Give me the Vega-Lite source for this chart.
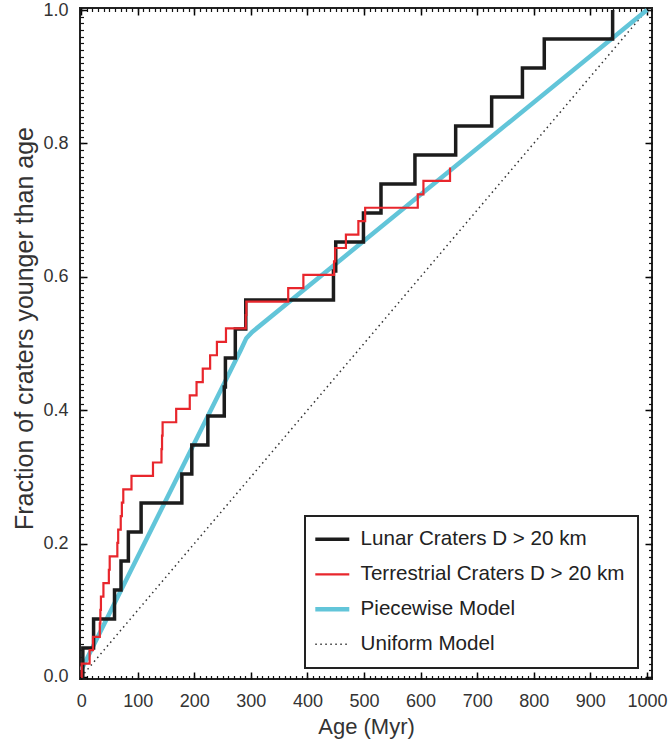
{
  "$schema": "https://vega.github.io/schema/vega-lite/v6.json",
  "width": 572,
  "height": 671,
  "autosize": {"type": "none"},
  "padding": {"left": 80, "top": 8, "right": 18, "bottom": 63},
  "background": "white",
  "config": {
    "view": {"stroke": "#222", "strokeWidth": 2},
    "axis": {"domain": false, "grid": false, "labelFont": "Liberation Sans", "titleFont": "Liberation Sans", "labelColor": "#333", "titleColor": "#333", "titleFontWeight": "normal", "labelFlush": false, "labelOverlap": false}
  },
  "data": {"values": [
    {"series": "Lunar Craters D > 20 km", "age": 0, "frac": 0},
    {"series": "Lunar Craters D > 20 km", "age": 3, "frac": 0.0435},
    {"series": "Lunar Craters D > 20 km", "age": 22, "frac": 0.087},
    {"series": "Lunar Craters D > 20 km", "age": 59, "frac": 0.1304},
    {"series": "Lunar Craters D > 20 km", "age": 70.5, "frac": 0.1739},
    {"series": "Lunar Craters D > 20 km", "age": 83.5, "frac": 0.2174},
    {"series": "Lunar Craters D > 20 km", "age": 106, "frac": 0.2609},
    {"series": "Lunar Craters D > 20 km", "age": 178, "frac": 0.3043},
    {"series": "Lunar Craters D > 20 km", "age": 195.6, "frac": 0.3478},
    {"series": "Lunar Craters D > 20 km", "age": 224, "frac": 0.3913},
    {"series": "Lunar Craters D > 20 km", "age": 253, "frac": 0.4348},
    {"series": "Lunar Craters D > 20 km", "age": 255, "frac": 0.4783},
    {"series": "Lunar Craters D > 20 km", "age": 272.5, "frac": 0.5217},
    {"series": "Lunar Craters D > 20 km", "age": 291, "frac": 0.5652},
    {"series": "Lunar Craters D > 20 km", "age": 446, "frac": 0.6087},
    {"series": "Lunar Craters D > 20 km", "age": 450, "frac": 0.6522},
    {"series": "Lunar Craters D > 20 km", "age": 499, "frac": 0.6957},
    {"series": "Lunar Craters D > 20 km", "age": 530, "frac": 0.7391},
    {"series": "Lunar Craters D > 20 km", "age": 590, "frac": 0.7826},
    {"series": "Lunar Craters D > 20 km", "age": 662, "frac": 0.8261},
    {"series": "Lunar Craters D > 20 km", "age": 725.6, "frac": 0.8696},
    {"series": "Lunar Craters D > 20 km", "age": 780, "frac": 0.913},
    {"series": "Lunar Craters D > 20 km", "age": 818.6, "frac": 0.9565},
    {"series": "Lunar Craters D > 20 km", "age": 939.4, "frac": 1.0},
    {"series": "Terrestrial Craters D > 20 km", "age": 0, "frac": 0},
    {"series": "Terrestrial Craters D > 20 km", "age": 1, "frac": 0.0201},
    {"series": "Terrestrial Craters D > 20 km", "age": 15, "frac": 0.0402},
    {"series": "Terrestrial Craters D > 20 km", "age": 21, "frac": 0.0603},
    {"series": "Terrestrial Craters D > 20 km", "age": 33, "frac": 0.0804},
    {"series": "Terrestrial Craters D > 20 km", "age": 34, "frac": 0.1005},
    {"series": "Terrestrial Craters D > 20 km", "age": 35, "frac": 0.1206},
    {"series": "Terrestrial Craters D > 20 km", "age": 39.4, "frac": 0.1407},
    {"series": "Terrestrial Craters D > 20 km", "age": 49, "frac": 0.1608},
    {"series": "Terrestrial Craters D > 20 km", "age": 50.5, "frac": 0.1809},
    {"series": "Terrestrial Craters D > 20 km", "age": 64, "frac": 0.201},
    {"series": "Terrestrial Craters D > 20 km", "age": 65.5, "frac": 0.2211},
    {"series": "Terrestrial Craters D > 20 km", "age": 70, "frac": 0.2412},
    {"series": "Terrestrial Craters D > 20 km", "age": 72, "frac": 0.2613},
    {"series": "Terrestrial Craters D > 20 km", "age": 74.5, "frac": 0.2814},
    {"series": "Terrestrial Craters D > 20 km", "age": 89, "frac": 0.3015},
    {"series": "Terrestrial Craters D > 20 km", "age": 127, "frac": 0.3216},
    {"series": "Terrestrial Craters D > 20 km", "age": 142, "frac": 0.3417},
    {"series": "Terrestrial Craters D > 20 km", "age": 143, "frac": 0.3618},
    {"series": "Terrestrial Craters D > 20 km", "age": 144, "frac": 0.3819},
    {"series": "Terrestrial Craters D > 20 km", "age": 168, "frac": 0.402},
    {"series": "Terrestrial Craters D > 20 km", "age": 192, "frac": 0.4221},
    {"series": "Terrestrial Craters D > 20 km", "age": 204, "frac": 0.4422},
    {"series": "Terrestrial Craters D > 20 km", "age": 215, "frac": 0.4623},
    {"series": "Terrestrial Craters D > 20 km", "age": 228, "frac": 0.4824},
    {"series": "Terrestrial Craters D > 20 km", "age": 240, "frac": 0.5025},
    {"series": "Terrestrial Craters D > 20 km", "age": 256, "frac": 0.5226},
    {"series": "Terrestrial Craters D > 20 km", "age": 291, "frac": 0.5427},
    {"series": "Terrestrial Craters D > 20 km", "age": 292, "frac": 0.5628},
    {"series": "Terrestrial Craters D > 20 km", "age": 366, "frac": 0.5829},
    {"series": "Terrestrial Craters D > 20 km", "age": 392.8, "frac": 0.603},
    {"series": "Terrestrial Craters D > 20 km", "age": 447, "frac": 0.6231},
    {"series": "Terrestrial Craters D > 20 km", "age": 449, "frac": 0.6432},
    {"series": "Terrestrial Craters D > 20 km", "age": 468, "frac": 0.6633},
    {"series": "Terrestrial Craters D > 20 km", "age": 490, "frac": 0.6834},
    {"series": "Terrestrial Craters D > 20 km", "age": 502, "frac": 0.7035},
    {"series": "Terrestrial Craters D > 20 km", "age": 595, "frac": 0.7236},
    {"series": "Terrestrial Craters D > 20 km", "age": 605, "frac": 0.7437},
    {"series": "Terrestrial Craters D > 20 km", "age": 652, "frac": 0.7638},
    {"series": "Piecewise Model", "age": 0, "frac": 0.01},
    {"series": "Piecewise Model", "age": 282, "frac": 0.49},
    {"series": "Piecewise Model", "age": 292, "frac": 0.508},
    {"series": "Piecewise Model", "age": 302, "frac": 0.517},
    {"series": "Piecewise Model", "age": 1000, "frac": 1.0},
    {"series": "Uniform Model", "age": 0, "frac": 0},
    {"series": "Uniform Model", "age": 1000, "frac": 1.0}
  ]},
  "layer": [
    {
      "transform": [{"filter": "datum.series === 'Uniform Model'"}],
      "mark": {"type": "line", "strokeWidth": 1.5, "strokeDash": [1.5, 3.5], "clip": true},
      "encoding": {
        "x": {"field": "age", "type": "quantitative", "scale": {"domain": [-2, 1009], "nice": false, "zero": false},
          "axis": {"orient": "bottom", "offset": -7, "values": [0,100,200,300,400,500,600,700,800,900,1000], "format": "d", "tickColor": "#000", "tickWidth": 1.5, "tickSize": 7, "labelPadding": 13, "labelFontSize": 18, "title": "Age (Myr)", "titleFontSize": 22, "titleY": 61, "titleBaseline": "alphabetic"}},
        "y": {"field": "frac", "type": "quantitative", "scale": {"domain": [-0.003, 1.003], "nice": false, "zero": false},
          "axis": {"orient": "left", "offset": -7, "values": [0,0.2,0.4,0.6,0.8,1.0], "format": ".1f", "tickColor": "#000", "tickWidth": 1.5, "tickSize": 7, "labelPadding": 12, "labelFontSize": 18, "title": "Fraction of craters younger than age", "titleFontSize": 25, "titleX": -55, "titleY": 320, "titleBaseline": "alphabetic", "titleAlign": "center", "titleAngle": 270}},
        "color": {"field": "series", "type": "nominal",
          "scale": {"domain": ["Lunar Craters D > 20 km", "Terrestrial Craters D > 20 km", "Piecewise Model", "Uniform Model"], "range": ["#1c1c1c", "#e8262c", "#62c5d9", "#333333"]},
          "legend": {"orient": "none", "legendX": 225, "legendY": 508, "title": null, "padding": 13, "rowPadding": 14, "labelFontSize": 20.6, "labelFont": "Liberation Sans", "labelColor": "#222", "labelLimit": 500, "labelOffset": 18, "symbolOffset": 4, "symbolType": "stroke", "symbolSize": 1156, "symbolStrokeWidth": 3, "strokeColor": "#222", "fillColor": "white",
            "encode": {
              "legend": {"update": {"strokeWidth": {"value": 2}}},
              "symbols": {"update": {
                "strokeWidth": {"signal": "datum.value === 'Piecewise Model' ? 4.5 : datum.value === 'Lunar Craters D > 20 km' ? 3.5 : datum.value === 'Uniform Model' ? 1.5 : 2.2"},
                "strokeDash": {"signal": "datum.value === 'Uniform Model' ? [1.5, 3.5] : [1, 0]"}
              }}
            }}}
      }
    },
    {
      "transform": [{"filter": "datum.series === 'Piecewise Model'"}],
      "mark": {"type": "line", "strokeWidth": 4.5, "clip": true},
      "encoding": {
        "x": {"field": "age", "type": "quantitative", "scale": {"domain": [-2, 1009], "nice": false, "zero": false},
          "axis": {"orient": "bottom", "offset": -3.5, "values": [0,10,20,30,40,50,60,70,80,90,100,110,120,130,140,150,160,170,180,190,200,210,220,230,240,250,260,270,280,290,300,310,320,330,340,350,360,370,380,390,400,410,420,430,440,450,460,470,480,490,500,510,520,530,540,550,560,570,580,590,600,610,620,630,640,650,660,670,680,690,700,710,720,730,740,750,760,770,780,790,800,810,820,830,840,850,860,870,880,890,900,910,920,930,940,950,960,970,980,990,1000], "tickColor": "#111", "tickWidth": 1.2, "tickSize": 3.5, "labels": false, "title": null}},
        "y": {"field": "frac", "type": "quantitative", "scale": {"domain": [-0.003, 1.003], "nice": false, "zero": false},
          "axis": {"orient": "left", "offset": -3.5, "values": [0,0.01,0.02,0.03,0.04,0.05,0.06,0.07,0.08,0.09,0.1,0.11,0.12,0.13,0.14,0.15,0.16,0.17,0.18,0.19,0.2,0.21,0.22,0.23,0.24,0.25,0.26,0.27,0.28,0.29,0.3,0.31,0.32,0.33,0.34,0.35,0.36,0.37,0.38,0.39,0.4,0.41,0.42,0.43,0.44,0.45,0.46,0.47,0.48,0.49,0.5,0.51,0.52,0.53,0.54,0.55,0.56,0.57,0.58,0.59,0.6,0.61,0.62,0.63,0.64,0.65,0.66,0.67,0.68,0.69,0.7,0.71,0.72,0.73,0.74,0.75,0.76,0.77,0.78,0.79,0.8,0.81,0.82,0.83,0.84,0.85,0.86,0.87,0.88,0.89,0.9,0.91,0.92,0.93,0.94,0.95,0.96,0.97,0.98,0.99,1.0], "tickColor": "#111", "tickWidth": 1.2, "tickSize": 3.5, "labels": false, "title": null}},
        "color": {"field": "series", "type": "nominal", "scale": {"domain": ["Lunar Craters D > 20 km", "Terrestrial Craters D > 20 km", "Piecewise Model", "Uniform Model"], "range": ["#1c1c1c", "#e8262c", "#62c5d9", "#333333"]}}
      }
    },
    {
      "transform": [{"filter": "datum.series === 'Lunar Craters D > 20 km'"}],
      "mark": {"type": "line", "interpolate": "step-after", "strokeWidth": 3.5, "clip": true},
      "encoding": {
        "x": {"field": "age", "type": "quantitative", "scale": {"domain": [-2, 1009], "nice": false, "zero": false},
          "axis": {"orient": "top", "offset": -7, "values": [0,100,200,300,400,500,600,700,800,900,1000], "tickColor": "#000", "tickWidth": 1.5, "tickSize": 7, "labels": false, "title": null}},
        "y": {"field": "frac", "type": "quantitative", "scale": {"domain": [-0.003, 1.003], "nice": false, "zero": false},
          "axis": {"orient": "right", "offset": -7, "values": [0,0.2,0.4,0.6,0.8,1.0], "tickColor": "#000", "tickWidth": 1.5, "tickSize": 7, "labels": false, "title": null}},
        "color": {"field": "series", "type": "nominal", "scale": {"domain": ["Lunar Craters D > 20 km", "Terrestrial Craters D > 20 km", "Piecewise Model", "Uniform Model"], "range": ["#1c1c1c", "#e8262c", "#62c5d9", "#333333"]}}
      }
    },
    {
      "transform": [{"filter": "datum.series === 'Terrestrial Craters D > 20 km'"}],
      "mark": {"type": "line", "interpolate": "step-after", "strokeWidth": 2.2, "clip": true},
      "encoding": {
        "x": {"field": "age", "type": "quantitative", "scale": {"domain": [-2, 1009], "nice": false, "zero": false},
          "axis": {"orient": "top", "offset": -3.5, "values": [0,10,20,30,40,50,60,70,80,90,100,110,120,130,140,150,160,170,180,190,200,210,220,230,240,250,260,270,280,290,300,310,320,330,340,350,360,370,380,390,400,410,420,430,440,450,460,470,480,490,500,510,520,530,540,550,560,570,580,590,600,610,620,630,640,650,660,670,680,690,700,710,720,730,740,750,760,770,780,790,800,810,820,830,840,850,860,870,880,890,900,910,920,930,940,950,960,970,980,990,1000], "tickColor": "#111", "tickWidth": 1.2, "tickSize": 3.5, "labels": false, "title": null}},
        "y": {"field": "frac", "type": "quantitative", "scale": {"domain": [-0.003, 1.003], "nice": false, "zero": false},
          "axis": {"orient": "right", "offset": -3.5, "values": [0,0.01,0.02,0.03,0.04,0.05,0.06,0.07,0.08,0.09,0.1,0.11,0.12,0.13,0.14,0.15,0.16,0.17,0.18,0.19,0.2,0.21,0.22,0.23,0.24,0.25,0.26,0.27,0.28,0.29,0.3,0.31,0.32,0.33,0.34,0.35,0.36,0.37,0.38,0.39,0.4,0.41,0.42,0.43,0.44,0.45,0.46,0.47,0.48,0.49,0.5,0.51,0.52,0.53,0.54,0.55,0.56,0.57,0.58,0.59,0.6,0.61,0.62,0.63,0.64,0.65,0.66,0.67,0.68,0.69,0.7,0.71,0.72,0.73,0.74,0.75,0.76,0.77,0.78,0.79,0.8,0.81,0.82,0.83,0.84,0.85,0.86,0.87,0.88,0.89,0.9,0.91,0.92,0.93,0.94,0.95,0.96,0.97,0.98,0.99,1.0], "tickColor": "#111", "tickWidth": 1.2, "tickSize": 3.5, "labels": false, "title": null}},
        "color": {"field": "series", "type": "nominal", "scale": {"domain": ["Lunar Craters D > 20 km", "Terrestrial Craters D > 20 km", "Piecewise Model", "Uniform Model"], "range": ["#1c1c1c", "#e8262c", "#62c5d9", "#333333"]}}
      }
    }
  ],
  "resolve": {"axis": {"x": "independent", "y": "independent"}}
}
